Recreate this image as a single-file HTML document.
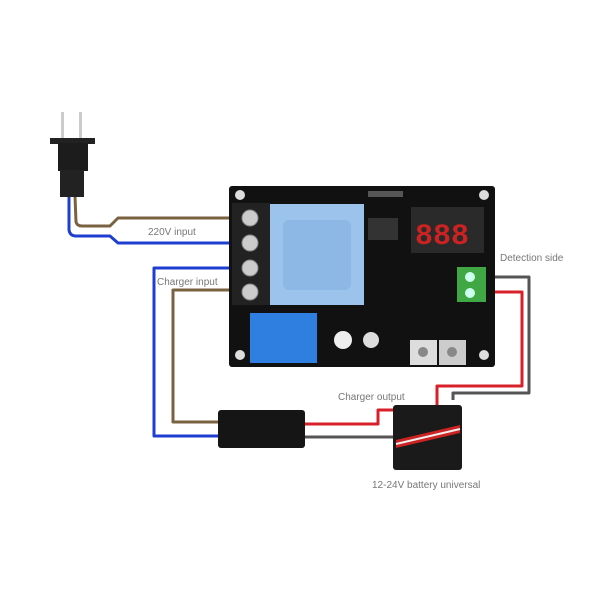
<!DOCTYPE html>
<html><head><meta charset="utf-8"><style>
html,body{margin:0;padding:0;background:#fff;}
svg{display:block}
text{font-family:"Liberation Sans",sans-serif;fill:#777;font-size:10px}
</style></head><body>
<svg width="600" height="600" viewBox="0 0 600 600">
<rect width="600" height="600" fill="#fff"/>
<g fill="none" stroke-width="3" stroke-linejoin="round">
<path d="M75 196 L76 222 Q77 226 82 226 L110 226 L118 218 L234 218" stroke="#7a6240"/>
<path d="M69 196 L69 230 Q70 236 76 236 L110 236 L118 243 L234 243" stroke="#1e3ed0"/>
<path d="M234 268 L154 268 L154 436 L220 436" stroke="#1e3ed0"/>
<path d="M234 290 L173 290 L173 422 L220 422" stroke="#7a6240"/>
<path d="M304 424 L378 424 L378 410 L437 410 L437 386 L522 386 L522 292 L490 292" stroke="#d8202a"/>
<path d="M304 437 L395 437" stroke="#555"/>
<path d="M453 400 L453 393 L529 393 L529 277 L490 277" stroke="#555"/>
</g>
<rect x="61" y="112" width="3" height="28" fill="#ccc"/>
<rect x="79" y="112" width="3" height="28" fill="#ccc"/>
<rect x="50" y="138" width="45" height="6" fill="#222"/>
<rect x="58" y="143" width="30" height="28" fill="#1c1c1c"/>
<rect x="60" y="170" width="24" height="27" fill="#222"/>
<rect x="229" y="186" width="266" height="181" rx="3" fill="#111"/>
<circle cx="240" cy="195" r="5" fill="#ddd"/>
<circle cx="484" cy="195" r="5" fill="#ddd"/>
<circle cx="240" cy="355" r="5" fill="#ddd"/>
<circle cx="484" cy="355" r="5" fill="#ddd"/>
<rect x="232" y="203" width="38" height="102" fill="#222"/>
<g fill="#ccc" stroke="#888">
<circle cx="250" cy="218" r="8"/><circle cx="250" cy="243" r="8"/>
<circle cx="250" cy="268" r="8"/><circle cx="250" cy="292" r="8"/>
</g>
<rect x="270" y="204" width="94" height="101" fill="#9cc3ec"/>
<rect x="283" y="220" width="68" height="70" rx="6" fill="#8db7e4"/>
<rect x="250" y="313" width="67" height="50" fill="#2f7fe0"/>
<rect x="411" y="207" width="73" height="46" fill="#2a2a2a"/>
<text x="415" y="244" style="font-size:30px;fill:#c22;font-family:'Liberation Mono',monospace;font-weight:bold">888</text>
<rect x="368" y="218" width="30" height="22" fill="#333"/>
<rect x="368" y="191" width="35" height="6" fill="#555"/>
<rect x="457" y="267" width="29" height="35" fill="#3fa845"/>
<circle cx="470" cy="277" r="5" fill="#cfe"/><circle cx="470" cy="293" r="5" fill="#cfe"/>
<rect x="410" y="340" width="27" height="25" fill="#ddd"/>
<rect x="439" y="340" width="27" height="25" fill="#ccc"/>
<circle cx="423" cy="352" r="5" fill="#888"/><circle cx="452" cy="352" r="5" fill="#888"/>
<circle cx="343" cy="340" r="9" fill="#eee"/><circle cx="371" cy="340" r="8" fill="#ddd"/>
<rect x="218" y="410" width="87" height="38" rx="3" fill="#151515"/>
<rect x="393" y="405" width="69" height="65" rx="3" fill="#1a1a1a"/>
<path d="M396 440 L460 425 L460 433 L396 448Z" fill="#c22"/>
<path d="M396 444 L460 429" stroke="#eee" stroke-width="2"/>
<text x="148" y="235">220V input</text>
<text x="157" y="285">Charger input</text>
<text x="500" y="261">Detection side</text>
<text x="338" y="400">Charger output</text>
<text x="372" y="488">12-24V battery universal</text>
</svg>
</body></html>
